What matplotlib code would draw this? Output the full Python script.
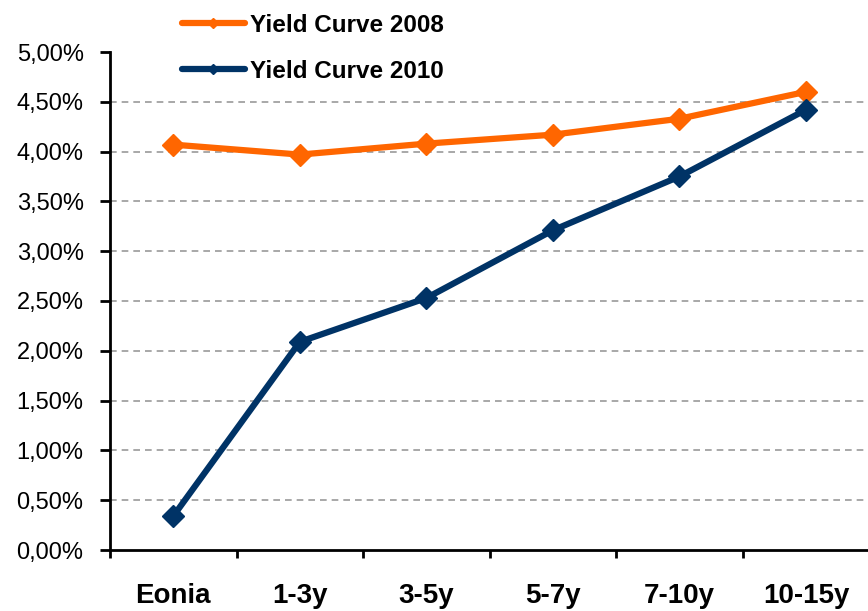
import matplotlib.pyplot as plt
from matplotlib.lines import Line2D
from matplotlib.ticker import FuncFormatter

plt.rcParams['font.family'] = ['Liberation Sans', 'DejaVu Sans']

maturities = ['Eonia', '1-3y', '3-5y', '5-7y', '7-10y', '10-15y']
curve_2008 = [4.07, 3.97, 4.08, 4.17, 4.33, 4.60]
curve_2010 = [0.34, 2.09, 2.53, 3.21, 3.75, 4.42]
yticks = [0.0, 0.5, 1.0, 1.5, 2.0, 2.5, 3.0, 3.5, 4.0, 4.5, 5.0]

orange = '#FF6600'
navy = '#003366'

fig = plt.figure(figsize=(8.68, 6.11), dpi=100)
ax = fig.add_axes([110 / 868, 1 - 550 / 611, 1 - 110 / 868, (550 - 52) / 611])

x = list(range(len(maturities)))
ax.plot(x, curve_2008, color=orange, lw=4.5, marker='D', ms=11, zorder=3, clip_on=False)
ax.plot(x, curve_2010, color=navy, lw=4.5, marker='D', ms=11, zorder=3, clip_on=False)

ax.set_ylim(0, 5)
ax.set_xlim(-0.5, 5.49)
ax.set_yticks(yticks)
ax.yaxis.set_major_formatter(FuncFormatter(lambda v, p: ('%.2f%%' % v).replace('.', ',')))
for v in yticks[1:-1]:
    ax.axhline(v, color='#999999', lw=1.2, ls=(0, (4, 3)), zorder=1)

ax.set_xticks([i - 0.5 for i in range(len(maturities))])
ax.set_xticklabels([])
ax.set_xticks(x, minor=True)
ax.set_xticklabels(maturities, minor=True, fontsize=20, fontweight='bold')
ax.tick_params(axis='x', which='minor', length=0, pad=24)
ax.tick_params(axis='x', which='major', length=6, width=2, direction='out')
ax.tick_params(axis='y', length=7, width=2, direction='out', labelsize=17, pad=12)

for s in ['top', 'right']:
    ax.spines[s].set_visible(False)
for s in ['left', 'bottom']:
    ax.spines[s].set_linewidth(2)

handles = [
    Line2D([], [], color=orange, lw=4.5, marker='D', ms=5, solid_capstyle='round'),
    Line2D([], [], color=navy, lw=4.5, marker='D', ms=5, solid_capstyle='round'),
]
fig.legend(handles, ['Yield Curve 2008', 'Yield Curve 2010'], loc='upper left',
           bbox_to_anchor=(160 / 868, 1 + 8 / 611), frameon=False,
           prop={'size': 17.5, 'weight': 'bold'}, handlelength=2.6,
           handletextpad=0.2, labelspacing=0.95)

fig.savefig('out.png', dpi=100)
